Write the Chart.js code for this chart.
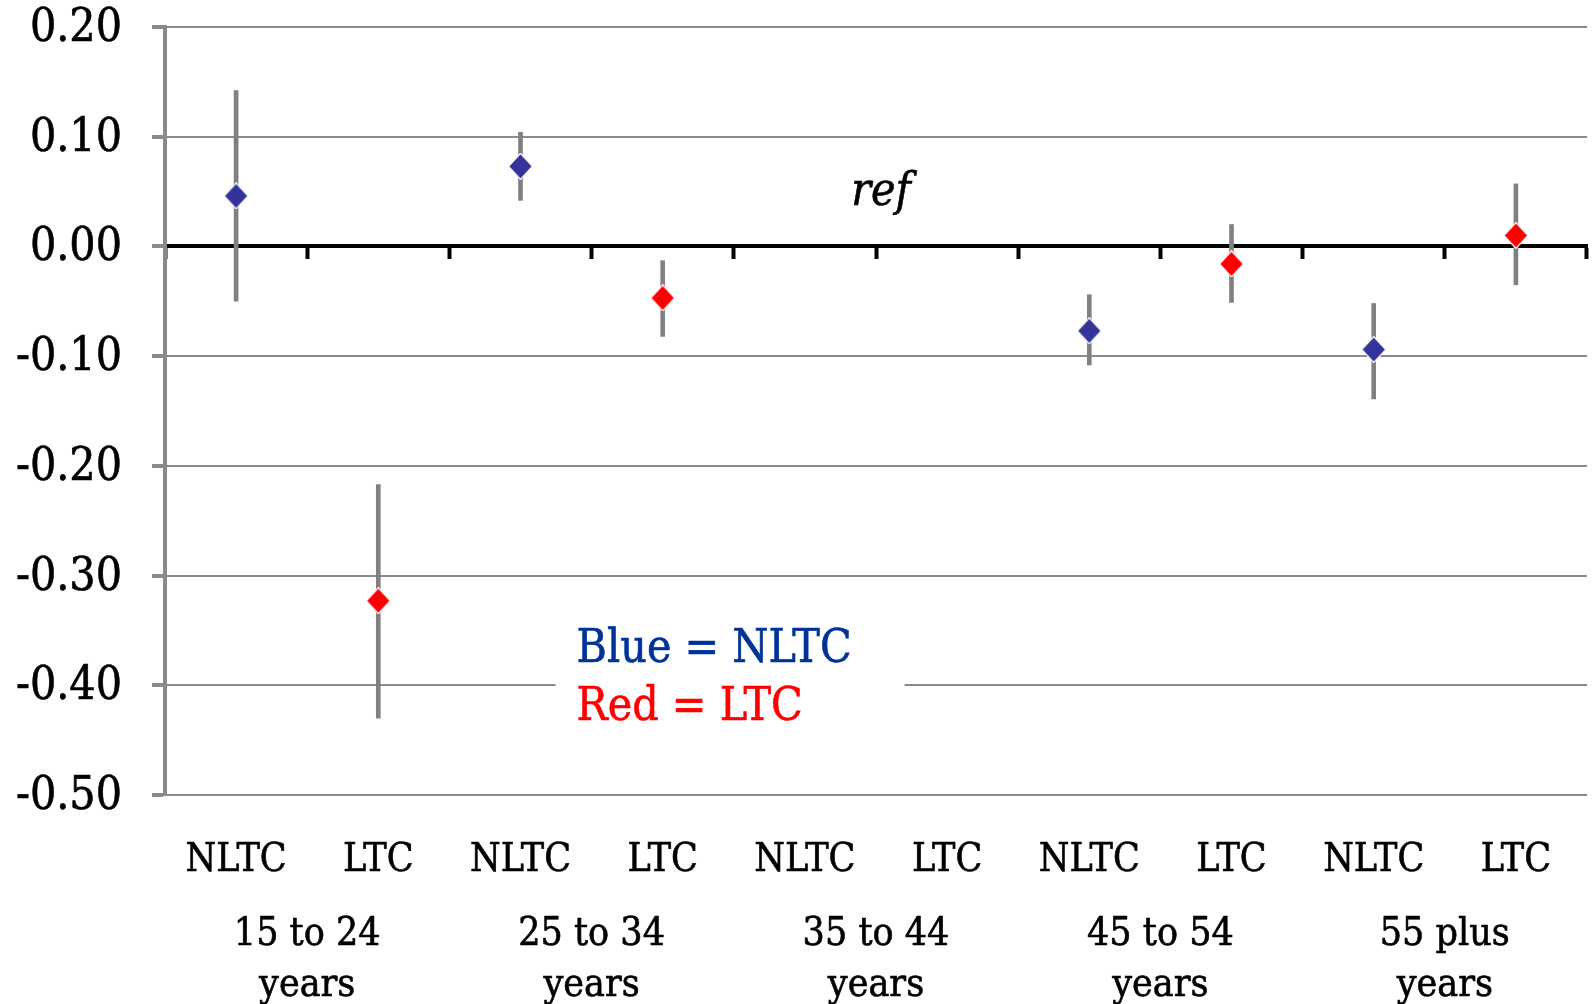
<!DOCTYPE html>
<html>
<head>
<meta charset="utf-8">
<script src="https://cdn.jsdelivr.net/npm/chart.js@4/dist/chart.umd.min.js"></script>
<style>
  html, body { margin: 0; padding: 0; background: #fff; }
  #wrap { width: 1592px; height: 1004px; }
</style>
</head>
<body>
<div id="wrap"><canvas id="ciChart"></canvas></div>
<script>
/* estimates with confidence intervals, by age group */

const categories = ['NLTC', 'LTC', 'NLTC', 'LTC', 'NLTC', 'LTC', 'NLTC', 'LTC', 'NLTC', 'LTC'];
const ageGroups = [['15 to 24', 'years'], ['25 to 34', 'years'], ['35 to 44', 'years'], ['45 to 54', 'years'], ['55 plus', 'years']];
const estimates = [0.046, -0.323, 0.073, -0.047, null, null, -0.077, -0.016, -0.094, 0.010];
const lowerBounds = [-0.050, -0.430, 0.042, -0.082, null, null, -0.108, -0.051, -0.139, -0.035];
const upperBounds = [0.142, -0.217, 0.104, -0.013, null, null, -0.044, 0.020, -0.052, 0.057];

const BLUE = '#333399';
const RED = '#ff0000';
const GRID = '#8a8a8a';
const SERIF = '"DejaVu Serif Condensed", "DejaVu Serif", serif';
const STROKE = 0.6;   // thickens the serif text a little

const intervals = categories.map((c, i) =>
  lowerBounds[i] === null ? null : [lowerBounds[i], upperBounds[i]]);

// diamond marker, a bit taller than wide, white edge
function makeDiamond(color) {
  const w = 25, h = 27;
  const c = document.createElement('canvas');
  c.width = w; c.height = h;
  const g = c.getContext('2d');
  g.beginPath();
  g.moveTo(w / 2, 0.5);
  g.lineTo(w - 0.5, h / 2);
  g.lineTo(w / 2, h - 0.5);
  g.lineTo(0.5, h / 2);
  g.closePath();
  g.fillStyle = color;
  g.fill();
  g.strokeStyle = '#fff';
  g.lineWidth = 1.2;
  g.stroke();
  return c;
}
const blueDiamond = makeDiamond(BLUE);
const redDiamond = makeDiamond(RED);
const pointShapes = categories.map(c => c === 'NLTC' ? blueDiamond : redDiamond);

function drawText(ctx, txt, x, y, color) {
  ctx.fillStyle = color;
  ctx.strokeStyle = color;
  ctx.lineWidth = STROKE;
  ctx.fillText(txt, x, y);
  ctx.strokeText(txt, x, y);
}

// white box with the colour key, plus the "ref" note
const notes = {
  id: 'notes',
  beforeDatasetsDraw(chart) {
    const {ctx, scales} = chart;
    const x = scales.x, y = scales.y;
    ctx.save();
    ctx.fillStyle = '#fff';
    const left = x.getPixelForValue(2.5) - 36;
    ctx.fillRect(left, y.getPixelForValue(-0.33), 349, y.getPixelForValue(-0.445) - y.getPixelForValue(-0.33));
    ctx.font = '46px ' + SERIF;
    ctx.textBaseline = 'alphabetic';
    ctx.textAlign = 'left';
    drawText(ctx, 'Blue = NLTC', left + 21, y.getPixelForValue(-0.3787), '#003399');
    drawText(ctx, 'Red = LTC', left + 21, y.getPixelForValue(-0.4316), RED);
    ctx.textAlign = 'center';
    ctx.font = 'italic 46px ' + SERIF;
    drawText(ctx, 'ref', x.getPixelForValue(4.5) + 5, y.getPixelForValue(0.038), '#000');
    ctx.restore();
  }
};

const ctx = document.getElementById('ciChart');
const ciChart = new Chart(ctx, {
  data: {
    labels: categories,
    datasets: [{
      type: 'line',
      label: 'estimate',
      data: estimates,
      showLine: false,
      pointStyle: pointShapes,
      pointRadius: 12,
      order: 0
    }, {
      type: 'bar',
      label: 'interval',
      data: intervals,
      backgroundColor: '#808080',
      barThickness: 4,
      order: 1
    }]
  },
  options: {
    responsive: true,
    maintainAspectRatio: false,
    animation: false,
    layout: { autoPadding: false, padding: { left: 0, right: 5, top: 27, bottom: 0 } },
    plugins: {
      legend: { display: false },
      tooltip: { enabled: false }
    },
    scales: {
      x: {
        position: 'bottom',
        offset: true,
        grid: { display: false, drawTicks: false, tickLength: 0 },
        border: { display: false },
        ticks: {
          padding: 42,
          maxRotation: 0,
          autoSkip: false,
          color: '#000',
          textStrokeColor: '#000',
          textStrokeWidth: STROKE,
          font: { family: SERIF, size: 39 }
        },
        afterFit(scale) {
          scale.height = 88;
          scale.paddingLeft = 0;
          scale.paddingRight = 0;
        }
      },
      xGroup: {
        type: 'category',
        position: 'bottom',
        labels: ageGroups,
        offset: true,
        grid: { display: false, drawTicks: false, tickLength: 0 },
        border: { display: false },
        ticks: {
          padding: 26,
          maxRotation: 0,
          autoSkip: false,
          color: '#000',
          textStrokeColor: '#000',
          textStrokeWidth: STROKE,
          font: { family: SERIF, size: 39, lineHeight: 1.32 }
        },
        afterFit(scale) {
          scale.height = 121;
          scale.paddingLeft = 0;
          scale.paddingRight = 0;
        }
      },
      xZero: {
        type: 'category',
        position: { y: 0 },
        labels: categories,
        offset: true,
        grid: {
          offset: true,
          drawOnChartArea: false,
          drawTicks: true,
          tickLength: 11,
          tickWidth: 4,
          tickColor: '#000',
          color: '#000'
        },
        border: { display: true, color: '#000', width: 4 },
        ticks: { display: false },
        afterFit(scale) {
          scale.paddingLeft = 0;
          scale.paddingRight = 0;
        }
      },
      y: {
        min: -0.5,
        max: 0.2,
        grid: {
          color: GRID,
          lineWidth: 2,
          tickLength: 13,
          tickWidth: 4,
          tickColor: GRID
        },
        border: { display: true, color: GRID, width: 4 },
        ticks: {
          stepSize: 0.1,
          padding: 30,
          labelOffset: 2,
          color: '#000',
          textStrokeColor: '#000',
          textStrokeWidth: STROKE,
          font: { family: SERIF, size: 46, lineHeight: 1 },
          callback: v => (Math.abs(v) < 1e-9 ? 0 : v).toFixed(2)
        },
        afterFit(scale) {
          scale.width = 165;
          scale.paddingTop = 20;
          scale.paddingBottom = 20;
        }
      }
    }
  },
  plugins: [notes]
});
</script>
</body>
</html>
